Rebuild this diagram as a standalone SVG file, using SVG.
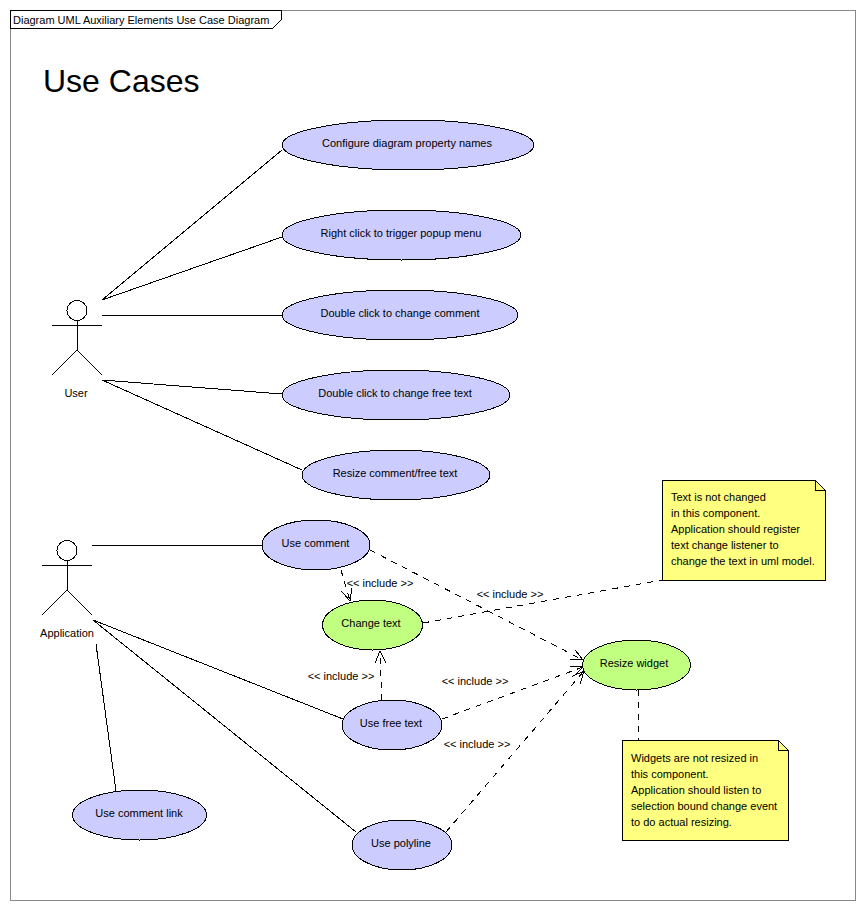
<svg xmlns="http://www.w3.org/2000/svg" width="866" height="910" viewBox="0 0 866 910">
<style>
text{font-family:"Liberation Sans",Arial,sans-serif;font-size:11px;fill:#000}
.c{text-anchor:middle}
ellipse,circle,path,rect{shape-rendering:crispEdges}
.uc{fill:#ccccff;stroke:#000;stroke-width:1}
.gn{fill:#c0ff80;stroke:#000;stroke-width:1}
.note{fill:#ffff80;stroke:#000;stroke-width:1}
.l{fill:none;stroke:#000;stroke-width:1}
.d{fill:none;stroke:#000;stroke-width:1;stroke-dasharray:6 6}
</style>
<defs><marker id="open" markerUnits="userSpaceOnUse" markerWidth="16" markerHeight="16" refX="13" refY="8" orient="auto"><path d="M1 2.500L13 8L1 13.500" fill="none" stroke="#000"/></marker></defs>
<rect width="866" height="910" fill="#fff"/>
<g id="frame"><rect x="10.500" y="10.500" width="845" height="890" fill="none" stroke="#888"/>
<path d="M10.500 10.500H281V20L272.500 28.500H10.500Z" fill="#fff" stroke="#000"/>
<text x="13" y="24">Diagram UML Auxiliary Elements Use Case Diagram</text>
<text x="43" y="92" style="font-size:32px">Use Cases</text></g>
<g id="connectors">
<path class="l" d="M102 300L282 150M102 300L282 237M102 315.500H282M102 380L282 394M102 380L302 470M92 545.500H262M93 620L343 719M93 620L356 832M96 644L116 791"/>
<path class="d" d="M341 570L350 601" marker-end="url(#open)"/>
<path class="d" d="M370 550L583 660" marker-end="url(#open)"/>
<path class="d" d="M382 700L380 651" marker-end="url(#open)"/>
<path class="d" d="M442 719L583 667" marker-end="url(#open)"/>
<path class="d" d="M446 832L584 671" marker-end="url(#open)"/>
<path class="d" d="M423 623L662 580"/>
<path class="d" d="M638 690V740"/>
</g>
<g id="labels">
<text class="c" x="380" y="587">&lt;&lt; include &gt;&gt;</text>
<text class="c" x="510" y="598">&lt;&lt; include &gt;&gt;</text>
<text class="c" x="341" y="680">&lt;&lt; include &gt;&gt;</text>
<text class="c" x="475" y="685">&lt;&lt; include &gt;&gt;</text>
<text class="c" x="477" y="748">&lt;&lt; include &gt;&gt;</text>
</g>
<g id="user"><circle cx="77" cy="310.500" r="10" fill="#fff" stroke="#000"/><path class="l" d="M77 320V350M52 325.500H102M77 350L52 375M77 350L102 375"/><text class="c" x="76" y="397">User</text></g>
<g id="application"><circle cx="67" cy="550.500" r="10" fill="#fff" stroke="#000"/><path class="l" d="M67 560V590M42 565.500H92M67 590L42 615M67 590L92 615"/><text class="c" x="67" y="637">Application</text></g>
<g id="uc1"><ellipse class="uc" cx="408" cy="145" rx="126" ry="25"/><text class="c" x="407" y="147">Configure diagram property names</text></g>
<g id="uc2"><ellipse class="uc" cx="401.500" cy="235" rx="119.500" ry="25"/><text class="c" x="401" y="237">Right click to trigger popup menu</text></g>
<g id="uc3"><ellipse class="uc" cx="400" cy="315" rx="118" ry="25"/><text class="c" x="400" y="317">Double click to change comment</text></g>
<g id="uc4"><ellipse class="uc" cx="396" cy="395" rx="114" ry="25"/><text class="c" x="395" y="397">Double click to change free text</text></g>
<g id="uc5"><ellipse class="uc" cx="396" cy="475" rx="94" ry="25"/><text class="c" x="395" y="477">Resize comment/free text</text></g>
<g id="uc6"><ellipse class="uc" cx="316" cy="545" rx="54" ry="25"/><text class="c" x="315.500" y="547">Use comment</text></g>
<g id="uc7"><ellipse class="gn" cx="372.500" cy="625" rx="50" ry="25"/><text class="c" x="371" y="627">Change text</text></g>
<g id="uc8"><ellipse class="gn" cx="636.500" cy="665" rx="54" ry="25"/><text class="c" x="634" y="667">Resize widget</text></g>
<g id="uc9"><ellipse class="uc" cx="392" cy="725" rx="50" ry="25"/><text class="c" x="391" y="727">Use free text</text></g>
<g id="uc10"><ellipse class="uc" cx="139.500" cy="815" rx="67" ry="25"/><text class="c" x="139" y="817">Use comment link</text></g>
<g id="uc11"><ellipse class="uc" cx="402" cy="845" rx="50" ry="25"/><text class="c" x="401" y="847">Use polyline</text></g>
<g id="note1"><path class="note" d="M662.500 480.500H815.500L825.500 490.500V580.500H662.500Z"/><path class="l" d="M815.500 480.500V490.500H825.500"/>
<text x="671" y="501">Text is not changed</text><text x="671" y="517">in this component.</text><text x="671" y="533">Application should register</text><text x="671" y="549">text change listener to</text><text x="671" y="565">change the text in uml model.</text></g>
<g id="note2"><path class="note" d="M622.500 740.500H778.500L788.500 750.500V840.500H622.500Z"/><path class="l" d="M778.500 740.500V750.500H788.500"/>
<text x="631" y="762">Widgets are not resized in</text><text x="631" y="778">this component.</text><text x="631" y="794">Application should listen to</text><text x="631" y="810">selection bound change event</text><text x="631" y="826">to do actual resizing.</text></g>
</svg>
